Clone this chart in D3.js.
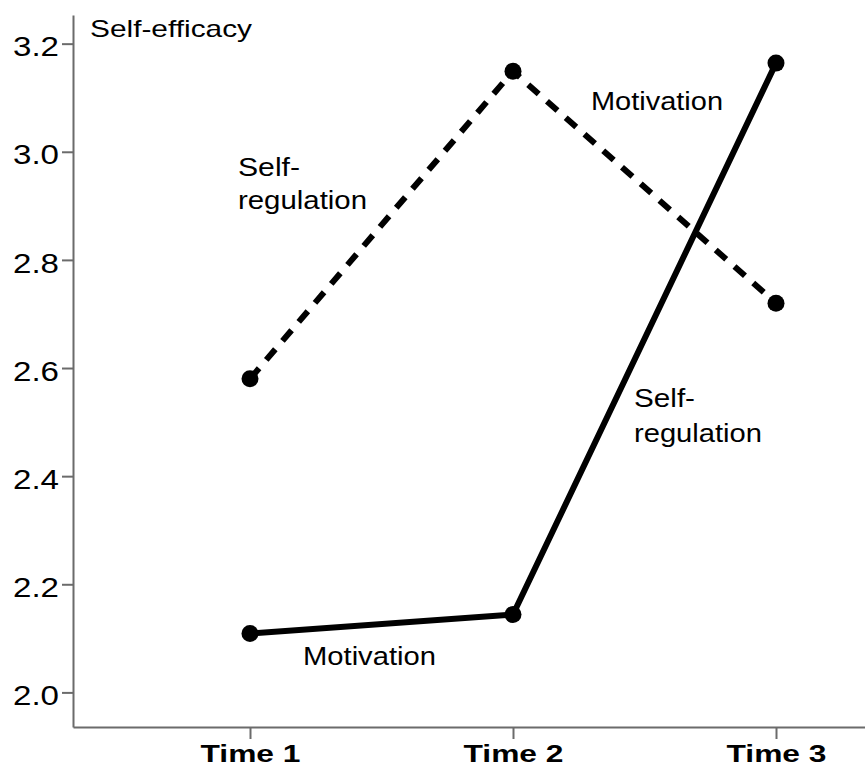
<!DOCTYPE html>
<html>
<head>
<meta charset="utf-8">
<script src="https://cdn.jsdelivr.net/npm/d3@7"></script>
<style>
  html, body { margin: 0; padding: 0; background: #fff; }
  svg { display: block; }
  text { font-family: "Liberation Sans", Arial, sans-serif; fill: #000; }
</style>
</head>
<body>
<svg id="chart" width="865" height="769"></svg>
<script>
// ---- data ----
const categories = ["Time 1", "Time 2", "Time 3"];
const solidSeries = [2.109, 2.144, 3.164];   // solid line
const dashedSeries = [2.580, 3.149, 2.720];  // dashed line
const yTickValues = [2.0, 2.2, 2.4, 2.6, 2.8, 3.0, 3.2];
const yAxisTitle = "Self-efficacy";

// ---- layout ----
const svg = d3.select("#chart");
const axisColor = "#6b6b6b";

const x = d3.scalePoint()
  .domain(categories)
  .range([73, 953])
  .padding(0.673);

const y = d3.scaleLinear()
  .domain([1.936, 3.253])
  .range([727, 15]);

// Y axis
const yAxis = svg.append("g")
  .attr("transform", "translate(73,0)")
  .call(d3.axisLeft(y).tickValues(yTickValues).tickFormat(d3.format(".1f"))
    .tickSize(11).tickSizeOuter(0).tickPadding(3));
yAxis.select(".domain").attr("stroke", axisColor).attr("stroke-width", 2);
yAxis.selectAll(".tick line").attr("stroke", axisColor).attr("stroke-width", 2);
yAxis.selectAll(".tick text")
  .attr("font-size", 27)
  .attr("font-family", "Liberation Sans, Arial, sans-serif")
  .attr("fill", "#000")
  .attr("dy", "0.45em")
  .attr("textLength", 46)
  .attr("lengthAdjust", "spacingAndGlyphs");

// X axis
const xAxis = svg.append("g")
  .attr("transform", "translate(0,727)")
  .call(d3.axisBottom(x).tickSize(12).tickSizeOuter(0));
xAxis.select(".domain").attr("stroke", axisColor).attr("stroke-width", 2);
xAxis.selectAll(".tick line").attr("stroke", axisColor).attr("stroke-width", 2);
xAxis.selectAll(".tick text")
  .attr("font-size", 23)
  .attr("font-weight", "bold")
  .attr("font-family", "Liberation Sans, Arial, sans-serif")
  .attr("fill", "#000")
  .attr("y", 35)
  .attr("dy", 0)
  .attr("textLength", 100)
  .attr("lengthAdjust", "spacingAndGlyphs");

// Lines
const line = d3.line()
  .x((d, i) => x(categories[i]))
  .y(d => y(d));

svg.append("path")
  .datum(dashedSeries)
  .attr("d", line)
  .attr("fill", "none")
  .attr("stroke", "#000")
  .attr("stroke-width", 6)
  .attr("stroke-dasharray", "14,11");

svg.append("path")
  .datum(solidSeries)
  .attr("d", line)
  .attr("fill", "none")
  .attr("stroke", "#000")
  .attr("stroke-width", 6)
  .attr("stroke-linejoin", "round");

// Points
[dashedSeries, solidSeries].forEach(series => {
  svg.append("g").selectAll("circle")
    .data(series)
    .join("circle")
    .attr("cx", (d, i) => x(categories[i]))
    .attr("cy", d => y(d))
    .attr("r", 8.5)
    .attr("fill", "#000");
});

// Annotations
const ann = svg.append("g");
function label(txt, px, py, size, len) {
  ann.append("text")
    .attr("x", px).attr("y", py)
    .attr("font-size", size)
    .attr("textLength", len)
    .attr("lengthAdjust", "spacingAndGlyphs")
    .text(txt);
}
label(yAxisTitle, 90, 37, 24, 162);
label("Self-", 238, 176, 25, 62);
label("regulation", 238, 209, 25, 129);
label("Motivation", 591, 110, 25, 132);
label("Self-", 634, 407, 25, 61);
label("regulation", 634, 442, 25, 128);
label("Motivation", 303, 665, 25, 133);
</script>
</body>
</html>
